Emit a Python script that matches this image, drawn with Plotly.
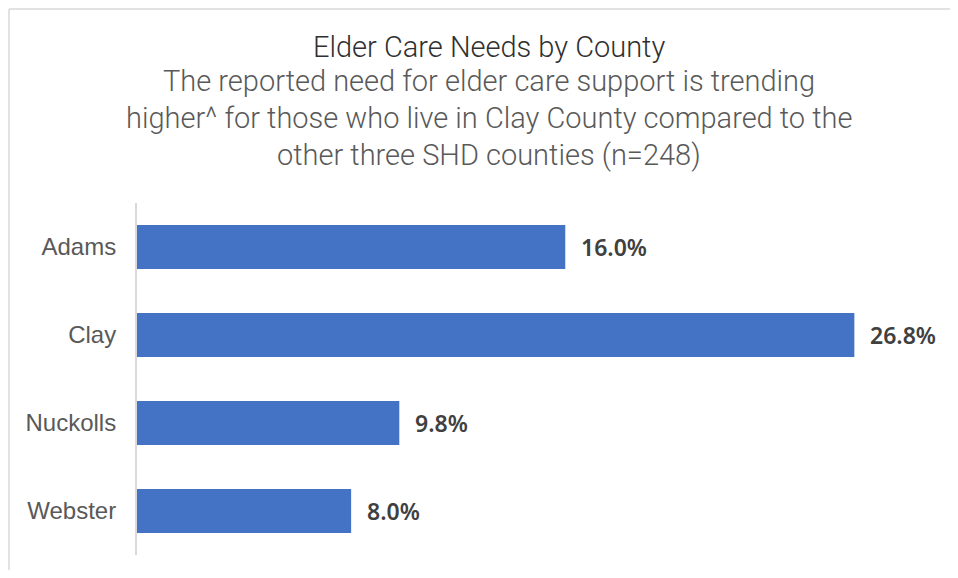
import plotly.graph_objects as go

counties = ["Adams", "Clay", "Nuckolls", "Webster"]
values = [16.0, 26.8, 9.8, 8.0]
title_text = "Elder Care Needs by County"
subtitle_lines = [
    "The reported need for elder care support is trending",
    "higher^ for those who live in Clay County compared to the",
    "other three SHD counties (n=248)",
]

OFF = 8  # page body margin
W, H = 958 - 2 * OFF, 562
L, T = 137 - OFF, 203 - OFF
R = W - L - 803
B = H - (555 - OFF)
pw, ph = W - L - R, H - T - B

def px_x(x):
    return (x - OFF - L) / pw

def px_y(y):
    return (H - B - (y - OFF)) / ph

fig = go.Figure(go.Bar(
    x=values, y=counties, orientation="h",
    marker=dict(color="#4472C4", line=dict(width=0)),
    width=0.5, hoverinfo="skip",
))

annotations = []
for c, v in zip(counties, values):
    annotations.append(dict(
        x=v, y=c, xref="x", yref="y", text=f"{v:.1f}%", showarrow=False,
        xanchor="left", yanchor="middle", xshift=14,
        font=dict(family="Noto Sans", size=23, color="#404040", weight=600),
    ))

cx = px_x(489)
annotations.append(dict(
    x=cx, y=px_y(47), xref="paper", yref="paper", text=title_text, showarrow=False,
    xanchor="center", yanchor="middle",
    font=dict(family="Roboto", size=29, color="#303030", weight=300),
))
for line, yy in zip(subtitle_lines, [81, 118, 155]):
    annotations.append(dict(
        x=cx, y=px_y(yy), xref="paper", yref="paper", text=line, showarrow=False,
        xanchor="center", yanchor="middle",
        font=dict(family="Roboto", size=29, color="#595959", weight=300),
    ))

border = dict(color="#D9D9D9", width=1.5)
fig.update_layout(
    width=W, height=H,
    margin=dict(l=L, r=R, t=T, b=B),
    paper_bgcolor="white", plot_bgcolor="white",
    showlegend=False,
    annotations=annotations,
    xaxis=dict(range=[0, 30], showgrid=False, zeroline=False, showticklabels=False,
               showline=False, ticks=""),
    yaxis=dict(autorange="reversed", showgrid=False, zeroline=False, ticks="",
               showline=True, linecolor="#D9D9D9", linewidth=2,
               tickfont=dict(family="Liberation Sans", size=24, color="#595959"),
               ticklabelstandoff=14),
    shapes=[
        dict(type="line", xref="paper", yref="paper",
             x0=px_x(9), x1=px_x(958), y0=px_y(9), y1=px_y(9), line=border, layer="below"),
        dict(type="line", xref="paper", yref="paper",
             x0=px_x(9), x1=px_x(9), y0=px_y(9), y1=px_y(578), line=border, layer="below"),
    ],
)

fig.write_html("out.html")
